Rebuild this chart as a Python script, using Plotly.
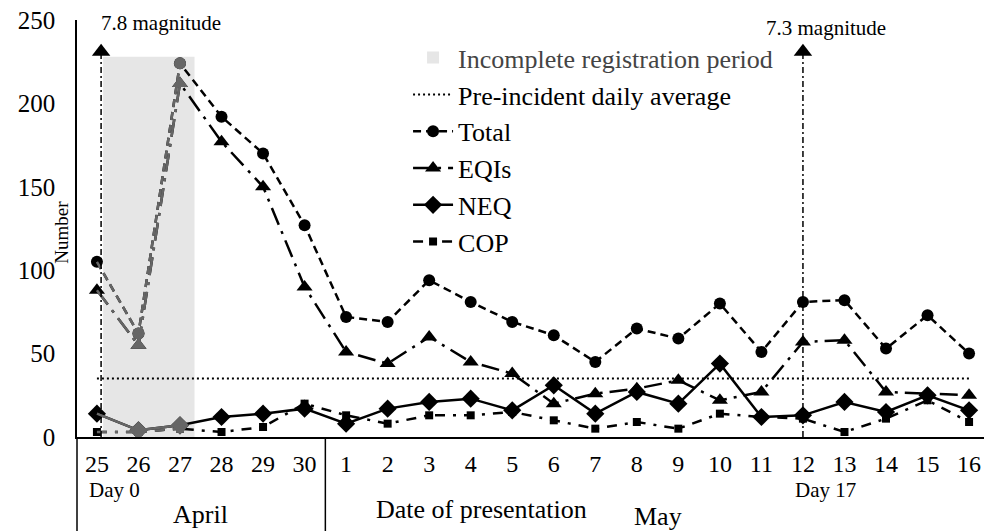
import plotly.graph_objects as go

# ---- data ----
days = ["25", "26", "27", "28", "29", "30",
        "1", "2", "3", "4", "5", "6", "7", "8", "9", "10", "11", "12", "13", "14", "15", "16"]
total = [105, 62, 224, 192, 170, 127, 72, 69, 94, 81, 69, 61, 45, 65, 59, 80, 51, 81, 82, 53, 73, 50]
eqis = [88, 55, 212, 177, 150, 90, 51, 44, 60, 45, 38, 20, 26, 29, 34, 22, 27, 57, 58, 27, 26, 25]
neq = [14, 4, 7, 12, 14, 17, 8, 17, 21, 23, 16, 31, 14, 27, 20, 44, 12, 13, 21, 15, 25, 16]
cop = [3, 3, 5, 3, 6, 20, 13, 8, 13, 13, 15, 10, 5, 9, 5, 14, 12, 11, 3, 11, 22, 9]
pre_incident_avg = 35
incomplete_days = ["25", "26", "27"]
shade_top = 228
quakes = [("25", "7.8 magnitude", "Day 0"), ("12", "7.3 magnitude", "Day 17")]
arrow_top = 231

FONT = "Liberation Serif"
GREY = "#666666"
xi = list(range(len(days)))
n_inc = len(incomplete_days)

fig = go.Figure()

# shaded incomplete registration period (legend entry via shape)
i0 = days.index(incomplete_days[0])
i1 = days.index(incomplete_days[-1])
fig.add_shape(type="rect", xref="x", yref="y", x0=i0 + 0.15, x1=i1 + 0.35, y0=-3, y1=shade_top,
              fillcolor="#e6e6e6", line=dict(width=0), layer="below",
              showlegend=True, name="<span style='color:#444444'>Incomplete registration period</span>",
              legendrank=1, legendgroup="g1")

# pre-incident daily average
fig.add_trace(go.Scatter(x=[xi[0], xi[-1]], y=[pre_incident_avg, pre_incident_avg], mode="lines",
                         line=dict(color="black", width=2, dash="2px,3px"),
                         name="Pre-incident daily average", legendrank=2, legendgroup="g2"))

series = [
    ("Total", total, "circle", 12, "8px,5px", 3),
    ("EQIs", eqis, "triangle-up", 14, "18px,7px,3px,7px", 4),
    ("NEQ", neq, "diamond", 14, "solid", 5),
    ("COP", cop, "square", 8, "10px,8px,3px,8px", 6),
]
for name, vals, sym, size, dash, rank in series:
    fig.add_trace(go.Scatter(x=xi, y=vals, mode="lines+markers", name=name,
                             line=dict(color="black", width=2.5, dash=dash),
                             marker=dict(symbol=sym, size=size, color="black"),
                             legendrank=rank, legendgroup="g%d" % rank))
for name, vals, sym, size, dash, rank in series:
    fig.add_trace(go.Scatter(x=xi[:n_inc], y=vals[:n_inc], mode="lines+markers", showlegend=False,
                             line=dict(color=GREY, width=2.5, dash=dash),
                             marker=dict(symbol=sym, size=size,
                                         color=["rgba(0,0,0,0)"] + [GREY] * (n_inc - 1)),
                             hoverinfo="skip"))

# earthquake arrows
annotations = []
for d, label, daylab in quakes:
    i = days.index(d)
    xa = i + (0.1 if i == 0 else 0)
    fig.add_trace(go.Scatter(x=[xa, xa], y=[0, arrow_top], mode="lines+markers", showlegend=False,
                             line=dict(color="black", width=1.5, dash="6px,3px,2px,3px"),
                             marker=dict(symbol=["circle", "triangle-up"], size=[0, 16], color="#000000",
                                         opacity=1, line=dict(width=0)),
                             hoverinfo="skip"))
    annotations.append(dict(x=xa + (1.45 if i == 0 else 0.55), y=(248 if i == 0 else 245),
                            xref="x", yref="y", text=label, showarrow=False,
                            xanchor="center", yanchor="middle",
                            font=dict(family=FONT, size=21, color="black")))
    annotations.append(dict(x=i - 0.25, y=-0.128, xref="x", yref="paper", text=daylab, showarrow=False,
                            xanchor="left", yanchor="middle",
                            font=dict(family=FONT, size=21, color="black")))

annotations += [
    dict(x=2.5, y=-0.187, xref="x", yref="paper", text="April", showarrow=False,
         xanchor="center", yanchor="middle", font=dict(family=FONT, size=26, color="black")),
    dict(x=13.5, y=-0.19, xref="x", yref="paper", text="May", showarrow=False,
         xanchor="center", yanchor="middle", font=dict(family=FONT, size=26, color="black")),
    dict(x=9.25, y=-0.175, xref="x", yref="paper", text="Date of presentation", showarrow=False,
         xanchor="center", yanchor="middle", font=dict(family=FONT, size=26, color="black")),
    dict(x=-0.0164, y=0.49, xref="paper", yref="paper", text="Number", showarrow=False,
         xanchor="center", yanchor="middle",
         textangle=-90, font=dict(family=FONT, size=19, color="black")),
]

xr = [-0.48, 21.48]
div = (5.5 - xr[0]) / (xr[1] - xr[0])
for xd in [0, div, 1]:
    fig.add_shape(type="line", xref="x domain", yref="paper", x0=xd, x1=xd, y0=0, y1=-0.3,
                  line=dict(color="black", width=1.5))

fig.update_layout(
    width=984, height=523,
    margin=dict(l=69, r=3, t=12, b=94),
    plot_bgcolor="white", paper_bgcolor="white",
    font=dict(family=FONT, size=20, color="black"),
    showlegend=True,
    legend=dict(x=0.363, y=0.966, xanchor="left", yanchor="top", bgcolor="rgba(0,0,0,0)",
                font=dict(family=FONT, size=26, color="black"), tracegroupgap=0,
                itemwidth=40),
    annotations=annotations,
    hovermode=False,
)
fig.update_xaxes(range=xr, tickvals=xi, ticktext=days, showgrid=False, zeroline=False,
                 showline=True, linecolor="black", linewidth=1.5, ticks="", automargin=False,
                 ticklabelstandoff=4, ticklabeloverflow="allow",
                 tickfont=dict(family=FONT, size=24, color="black"))
fig.update_yaxes(range=[0, 250], tickvals=[0, 50, 100, 150, 200, 250], showgrid=False, zeroline=False,
                 showline=True, linecolor="black", linewidth=1.5, ticks="", automargin=False,
                 ticklabelstandoff=15, ticklabeloverflow="allow",
                 tickfont=dict(family=FONT, size=25, color="black"))

fig.write_html("out.html")
